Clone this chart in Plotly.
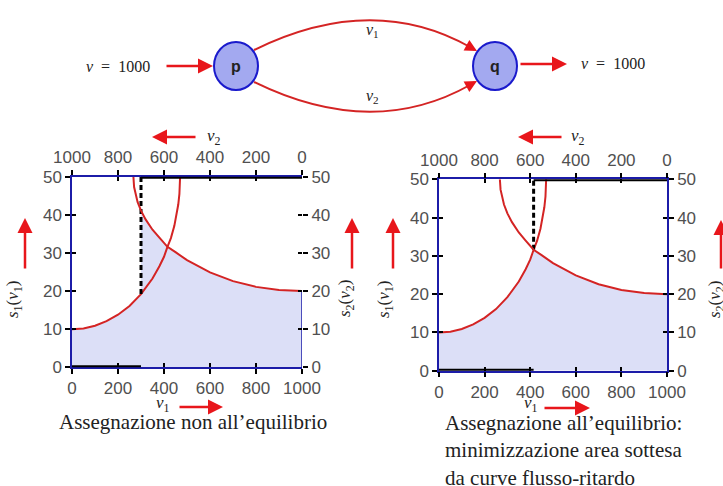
import plotly.graph_objects as go

W, H = 723, 486

# ---- data ----
v1_pts = [0, 50, 100, 150, 200, 250, 300, 350, 380, 400, 415, 430, 445, 455, 462, 467, 469, 470]
s1_pts = [10.0, 10.2, 10.9, 12.1, 13.8, 16.1, 19.2, 23.3, 26.5, 29.0, 31.6, 33.9, 37.1, 40.0, 42.7, 45.5, 47.4, 50.0]
v2_pts = [0, 100, 200, 300, 400, 500, 550, 585, 620, 650, 680, 700, 715, 725, 730, 733]
s2_pts = [20.0, 20.3, 21.1, 22.6, 24.9, 28.1, 30.2, 31.6, 34.0, 36.1, 38.8, 41.1, 43.4, 45.6, 47.3, 50.0]
eq_v1 = [300, 415]          # v1 assignment in left / right chart
total_flow = 1000
x_ticks = [0, 200, 400, 600, 800, 1000]
y_ticks = [0, 10, 20, 30, 40, 50]
captions = ["Assegnazione non all\u2019equilibrio",
            "Assegnazione all\u2019equilibrio:<br>minimizzazione area sottesa<br>da curve flusso-ritardo"]

# ---- style ----
BLUE = "#1c1ca8"
RED_CURVE = "#d42424"
RED_ARROW = "#e8161b"
FILL = "#dcdff7"
TICKFONT = dict(family="Liberation Sans, Arial", size=17, color="#505050")
SERIF = "Liberation Serif, Times New Roman"

def px(x, y):
    return x / W, 1 - y / H

charts = [dict(x0=72, x1=302, y0=176.7, y1=367.3),
          dict(x0=439, x1=667, y0=179.3, y1=370.7)]

fig = go.Figure()
layout = dict(width=W, height=H, margin=dict(l=0, r=0, t=0, b=0, autoexpand=False),
              paper_bgcolor="white", plot_bgcolor="rgba(0,0,0,0)", showlegend=False)

# diagram axes (1 unit = 1 px)
layout["xaxis"] = dict(domain=[0, 1], range=[0, W], visible=False, fixedrange=True)
layout["yaxis"] = dict(domain=[1 - 120 / H, 1], range=[120, 0], visible=False, fixedrange=True)

shapes = []
annotations = []

def val_at(xs, ys, x):
    return ys[xs.index(x)]

for c, ch in enumerate(charts):
    b = 2 + c * 4
    dx = [ch["x0"] / W, ch["x1"] / W]
    dy = [1 - ch["y1"] / H, 1 - ch["y0"] / H]
    common = dict(showgrid=False, zeroline=False, fixedrange=True, tickcolor="black",
                  tickwidth=1.6, linecolor=BLUE, linewidth=1.5, automargin=False)
    # x axes
    layout[f"xaxis{b}"] = dict(common, domain=dx, range=[0, 1000], anchor=f"y{b}", side="bottom",
                               showline=True, ticks="outside", ticklen=5, tickvals=x_ticks,
                               tickfont=TICKFONT)
    layout[f"xaxis{b+1}"] = dict(common, overlaying=f"x{b}", range=[1000, 0], anchor=f"y{b}", side="top",
                                 showline=True, ticks="outside", ticklen=5, tickvals=x_ticks,
                                 tickfont=TICKFONT)
    layout[f"xaxis{b+2}"] = dict(common, overlaying=f"x{b}", range=[0, 1000], anchor=f"y{b}", side="bottom",
                                 showline=False, ticks="inside", ticklen=4, tickvals=x_ticks,
                                 showticklabels=False)
    layout[f"xaxis{b+3}"] = dict(common, overlaying=f"x{b}", range=[1000, 0], anchor=f"y{b}", side="top",
                                 showline=False, ticks="inside", ticklen=4, tickvals=x_ticks,
                                 showticklabels=False)
    # y axes
    layout[f"yaxis{b}"] = dict(common, domain=dy, range=[0, 50], anchor=f"x{b}", side="left",
                               showline=True, ticks="outside", ticklen=5, tickvals=y_ticks,
                               tickfont=TICKFONT)
    layout[f"yaxis{b+1}"] = dict(common, overlaying=f"y{b}", range=[0, 50], anchor=f"x{b}", side="right",
                                 showline=(c == 1), ticks="outside", ticklen=5, tickvals=y_ticks,
                                 tickfont=TICKFONT)
    layout[f"yaxis{b+2}"] = dict(common, overlaying=f"y{b}", range=[0, 50], anchor=f"x{b}", side="left",
                                 showline=False, ticks="inside", ticklen=4, tickvals=y_ticks,
                                 showticklabels=False)
    layout[f"yaxis{b+3}"] = dict(common, overlaying=f"y{b}", range=[0, 50], anchor=f"x{b}", side="right",
                                 showline=False, ticks="inside", ticklen=4, tickvals=y_ticks,
                                 showticklabels=False)

    eq = eq_v1[c]
    s1_eq = val_at(v1_pts, s1_pts, eq)
    # shaded area under the flow-delay curves
    fx = [0] + [v for v in v1_pts if v <= eq]
    fy = [0] + [s for v, s in zip(v1_pts, s1_pts) if v <= eq]
    for v, s in sorted([(total_flow - v, s) for v, s in zip(v2_pts, s2_pts) if v <= total_flow - eq]):
        fx.append(v)
        fy.append(s)
    fx += [total_flow, 0]
    fy += [0, 0]
    fig.add_trace(go.Scatter(x=fx, y=fy, fill="toself", fillcolor=FILL, mode="lines",
                             line=dict(width=0), xaxis=f"x{b}", yaxis=f"y{b}", hoverinfo="skip"))
    if c == 0:
        fig.add_trace(go.Scatter(x=[total_flow, total_flow], y=[0, s2_pts[0]], mode="lines",
                                 line=dict(color=BLUE, width=1.5), xaxis=f"x{b}", yaxis=f"y{b}"))
    # flow-delay curves
    fig.add_trace(go.Scatter(x=v1_pts, y=s1_pts, mode="lines", line=dict(color=RED_CURVE, width=2),
                             xaxis=f"x{b}", yaxis=f"y{b}"))
    fig.add_trace(go.Scatter(x=v2_pts, y=s2_pts, mode="lines", line=dict(color=RED_CURVE, width=2),
                             xaxis=f"x{b+1}", yaxis=f"y{b}"))
    # dashed assignment line
    fig.add_trace(go.Scatter(x=[eq, eq], y=[s1_eq, 50], mode="lines",
                             line=dict(color="black", width=3, dash="5px,3px"),
                             xaxis=f"x{b}", yaxis=f"y{b}"))
    # invisible anchors so that every helper axis gets drawn
    for xa, ya in [(f"x{b+2}", f"y{b}"), (f"x{b+3}", f"y{b}"), (f"x{b}", f"y{b+1}"),
                   (f"x{b}", f"y{b+2}"), (f"x{b}", f"y{b+3}")]:
        fig.add_trace(go.Scatter(x=[eq], y=[s1_eq], mode="markers", marker=dict(opacity=0, size=1),
                                 xaxis=xa, yaxis=ya, hoverinfo="skip"))
    # thick black flow segments
    shapes.append(dict(type="line", xref=f"x{b}", yref=f"y{b}", x0=0, x1=eq, y0=0, y1=0,
                       line=dict(color="black", width=4)))
    shapes.append(dict(type="line", xref=f"x{b}", yref=f"y{b}", x0=eq, x1=total_flow, y0=50, y1=50,
                       line=dict(color="black", width=4)))

fig.update_layout(**layout)

# ---- annotations ----
def text(x, y, t, size=17, family=SERIF, angle=0, xanchor="center", yanchor="middle",
         color="#222222", align="center"):
    xx, yy = px(x, y)
    annotations.append(dict(xref="paper", yref="paper", x=xx, y=yy, text=t, showarrow=False,
                            textangle=angle, xanchor=xanchor, yanchor=yanchor, align=align,
                            font=dict(family=family, size=size, color=color)))

def arrow(xt, yt, xs, ys, width=2.5, size=1.2):
    xx, yy = px(xt, yt)
    annotations.append(dict(xref="paper", yref="paper", x=xx, y=yy, ax=xs - xt, ay=ys - yt,
                            text="", showarrow=True, arrowhead=2, arrowsize=size,
                            arrowwidth=width, arrowcolor=RED_ARROW))

s1_lbl = "<i>s</i><sub>1</sub>(<i>\u03bd</i><sub>1</sub>)"
s2_lbl = "<i>s</i><sub>2</sub>(<i>\u03bd</i><sub>2</sub>)"
nu1 = "<i>\u03bd</i><sub>1</sub>"
nu2 = "<i>\u03bd</i><sub>2</sub>"

# left chart
text(14, 300, s1_lbl, angle=-90)
arrow(25, 218, 25, 270)
text(346, 299, s2_lbl, angle=-90)
arrow(352, 218, 352, 270)
text(163, 404, nu1)
arrow(223, 407, 178, 407)
text(214, 137, nu2)
arrow(152, 137, 197, 137)
text(193, 422, captions[0], size=21)
# right chart
text(385, 300, s1_lbl, angle=-90)
arrow(393, 218, 393, 270)
text(716, 300, s2_lbl, angle=-90)
arrow(721, 220, 721, 270)
text(531, 404, nu1)
arrow(590, 408, 543, 408)
text(578, 137, nu2)
arrow(518, 137, 563, 137)
text(443, 450, captions[1], size=21, xanchor="left", align="left")

# ---- network diagram ----
nodes = {"p": (236, 66), "q": (495, 66)}
for name, (cx, cy) in nodes.items():
    shapes.append(dict(type="circle", xref="x", yref="y", x0=cx - 22, x1=cx + 22, y0=cy - 24, y1=cy + 24,
                       fillcolor="#a3a9f0", line=dict(color="#1a1acc", width=2)))
    annotations.append(dict(xref="x", yref="y", x=cx, y=cy, text=f"<b>{name}</b>", showarrow=False,
                            font=dict(family="Liberation Sans, Arial", size=16, color="#222")))
shapes.append(dict(type="path", xref="x", yref="y", path="M 254,50 Q 372,-8 470,47",
                   line=dict(color=RED_CURVE, width=2)))
shapes.append(dict(type="path", xref="x", yref="y", path="M 254,82 Q 372,140 470,85",
                   line=dict(color=RED_CURVE, width=2)))
for (xt, yt, xs, ys) in [(477, 51, 466, 45), (477, 81, 466, 87)]:
    annotations.append(dict(xref="x", yref="y", axref="x", ayref="y", x=xt, y=yt, ax=xs, ay=ys,
                            text="", showarrow=True, arrowhead=2, arrowsize=1.2, arrowwidth=2,
                            arrowcolor=RED_ARROW))
for (xt, yt, xs, ys) in [(213, 66, 165, 66), (567, 64, 519, 64)]:
    annotations.append(dict(xref="x", yref="y", axref="x", ayref="y", x=xt, y=yt, ax=xs, ay=ys,
                            text="", showarrow=True, arrowhead=2, arrowsize=1.2, arrowwidth=2.5,
                            arrowcolor=RED_ARROW))
for (x, y, t) in [(118, 66, "<i>\u03bd</i>  =  1000"), (613, 63, "<i>\u03bd</i>  =  1000"),
                  (372, 30, nu1), (372, 96, nu2)]:
    annotations.append(dict(xref="x", yref="y", x=x, y=y, text=t, showarrow=False,
                            font=dict(family=SERIF, size=16, color="#222")))

fig.update_layout(shapes=shapes, annotations=annotations)
fig.write_html("out.html", config={"displayModeBar": False},
               post_script="document.body.style.margin='0';")
